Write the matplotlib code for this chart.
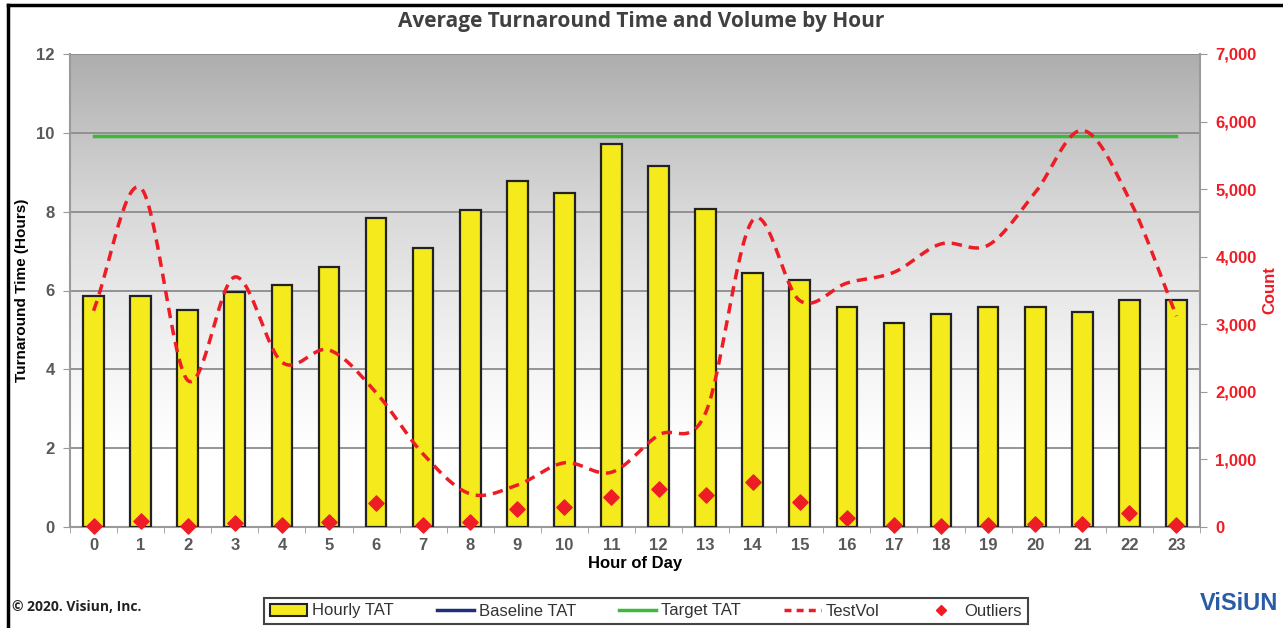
import matplotlib
matplotlib.use('Agg')
import matplotlib.pyplot as plt
from matplotlib.lines import Line2D
from matplotlib.patches import Patch
import matplotlib.ticker as mticker
import numpy as np

# Dados
horas = list(range(24))
hourly_tat = [5.87, 5.85, 5.5, 5.97, 6.15, 6.6, 7.85, 7.07, 8.05, 8.78, 8.48, 9.71,
              9.15, 8.07, 6.45, 6.26, 5.59, 5.18, 5.41, 5.57, 5.59, 5.45, 5.77, 5.77]
target_tat = 9.93
test_vol = [3200, 5020, 2170, 3700, 2440, 2620, 1990, 1080, 490, 620, 950, 810,
            1360, 1690, 4540, 3350, 3610, 3770, 4190, 4170, 4950, 5870, 4850, 3120]
outliers = [10, 90, 10, 60, 30, 80, 350, 30, 70, 270, 300, 450,
            560, 470, 660, 370, 130, 30, 10, 30, 50, 50, 200, 30]

tick_gray = '#595959'
yellow = '#f4ea1c'
red = '#ee1c24'
green = '#3cb83c'
navy = '#1f2f7a'


def suavizar(x, y, n=30):
    # curva suavizada tipo Excel (Catmull-Rom) passando pelos pontos
    x = np.asarray(x, float)
    y = np.asarray(y, float)
    px = np.concatenate([[2 * x[0] - x[1]], x, [2 * x[-1] - x[-2]]])
    py = np.concatenate([[2 * y[0] - y[1]], y, [2 * y[-1] - y[-2]]])
    xs, ys = [], []
    t = np.linspace(0, 1, n, endpoint=False)
    for i in range(1, len(px) - 2):
        for p, out in ((px, xs), (py, ys)):
            p0, p1, p2, p3 = p[i - 1], p[i], p[i + 1], p[i + 2]
            out.extend(0.5 * ((2 * p1) + (-p0 + p2) * t
                              + (2 * p0 - 5 * p1 + 4 * p2 - p3) * t ** 2
                              + (-p0 + 3 * p1 - 3 * p2 + p3) * t ** 3))
    xs.append(x[-1])
    ys.append(y[-1])
    return np.array(xs), np.array(ys)


fig = plt.figure(figsize=(12.83, 6.28), dpi=100)
ax = fig.add_axes([70 / 1283, 101 / 628, 1130 / 1283, 473 / 628])
ax.set_xlim(-0.5, 23.5)
ax.set_ylim(0, 12)

# fundo em degrade (cinza em cima, branco embaixo)
cores = np.ones((256, 1, 3))
nivel = np.interp(np.linspace(12, 0, 256), [0, 2, 4, 6, 8, 10, 12], [1, 1, 0.96, 0.91, 0.85, 0.77, 0.68])
cores[:, 0, :] = nivel[:, None]
ax.imshow(cores, extent=[-0.5, 23.5, 0, 12], aspect='auto', zorder=0, interpolation='bilinear')

for v in [2, 4, 6, 8, 10, 12]:
    ax.axhline(v, color='#8c8c8c', lw=1.3, zorder=1)

ax.bar(horas, hourly_tat, width=0.44, color=yellow, edgecolor='#222222', linewidth=1.6, zorder=3)
ax.plot([horas[0], horas[-1]], [target_tat, target_tat], color=green, lw=2.5, zorder=4)

ax.set_xticks(horas)
ax.set_xticks(np.arange(-0.5, 24, 1), minor=True)
ax.tick_params(axis='x', which='major', length=0, pad=8, labelsize=12, labelcolor=tick_gray)
ax.tick_params(axis='x', which='minor', length=4, color='#999999', direction='out')
ax.set_yticks([0, 2, 4, 6, 8, 10, 12])
ax.tick_params(axis='y', length=5, color='#999999', labelsize=12, labelcolor=tick_gray, pad=6)
for lab in ax.get_xticklabels() + ax.get_yticklabels():
    lab.set_fontweight('bold')
    lab.set_fontfamily('Liberation Sans')
for s in ['left', 'bottom']:
    ax.spines[s].set_color('#9a9a9a')
    ax.spines[s].set_linewidth(1.5)
ax.spines['top'].set_visible(False)
ax.spines['right'].set_visible(False)

ax.set_xlabel('Hour of Day', fontsize=12, fontweight='bold', family='Liberation Sans', labelpad=2)
ax.set_ylabel('Turnaround Time (Hours)', fontsize=11, fontweight='bold', family='Liberation Sans', labelpad=5)

# eixo da direita (contagem)
ax2 = ax.twinx()
ax2.set_ylim(0, 7000)
ax2.set_yticks(range(0, 7001, 1000))
ax2.yaxis.set_major_formatter(mticker.FuncFormatter(lambda v, p: f'{int(v):,}'))
ax2.tick_params(axis='y', length=5, color='#999999', labelsize=12, labelcolor=red, pad=6)
for lab in ax2.get_yticklabels():
    lab.set_fontweight('bold')
    lab.set_fontfamily('Liberation Sans')
for s in ['top', 'left', 'bottom']:
    ax2.spines[s].set_visible(False)
ax2.spines['right'].set_color('#9a9a9a')
ax2.spines['right'].set_linewidth(1.5)
ax2.set_ylabel('Count', fontsize=12, fontweight='bold', color=red, family='Liberation Sans', labelpad=4)

cx, cy = suavizar(horas, test_vol)
ax2.plot(cx, cy, color=red, lw=2.5, linestyle=(0, (3, 2)), zorder=5)
ax2.scatter(horas, outliers, marker='D', s=60, color=red, zorder=6, clip_on=False)

fig.text(0.5, 1 - 22 / 628, 'Average Turnaround Time and Volume by Hour', ha='center', va='center',
         fontsize=15, fontweight='bold', color='#404040', family='Open Sans')

# legenda
handles = [
    Patch(facecolor=yellow, edgecolor='#222222', linewidth=1.5),
    Line2D([], [], color=navy, lw=2.5),
    Line2D([], [], color=green, lw=2.5),
    Line2D([], [], color=red, lw=2.5, linestyle=(0, (2, 1.5))),
    Line2D([], [], color=red, marker='D', linestyle='none', markersize=5),
]
nomes = ['Hourly TAT', 'Baseline TAT', 'Target TAT', 'TestVol', 'Outliers']
leg = fig.legend(handles, nomes, loc='center', bbox_to_anchor=(646 / 1283, 1 - 611 / 628), ncol=5,
                 fancybox=False, edgecolor='#444444', framealpha=1, columnspacing=2.6, handlelength=2.2,
                 handletextpad=0.3, borderpad=0.35, prop={'family': 'Liberation Sans', 'size': 12})
leg.get_frame().set_linewidth(1.5)
for t in leg.get_texts():
    t.set_color('#333333')

fig.text(12 / 1283, 1 - 607 / 628, '\u00a9 2020. Visiun, Inc.', ha='left', va='center',
         fontsize=10, fontweight='bold', color='#222222', family='Open Sans')
fig.text(1278 / 1283, 1 - 603 / 628, 'ViSiUN', ha='right', va='center',
         fontsize=17, fontweight='bold', color='#2a5ba6', family='Liberation Sans')

# moldura da figura (esquerda e topo)
fig.add_artist(Line2D([8 / 1283, 8 / 1283], [0, 1 - 5 / 628], color='black', lw=2.5, transform=fig.transFigure))
fig.add_artist(Line2D([8 / 1283, 1], [1 - 5 / 628, 1 - 5 / 628], color='black', lw=2.5, transform=fig.transFigure))

fig.savefig('out.png', dpi=100)
